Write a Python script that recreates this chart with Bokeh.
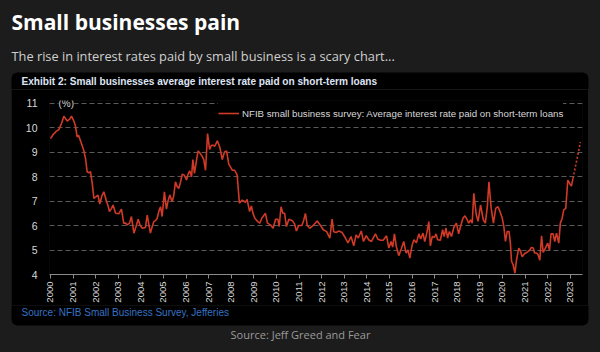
import math
from bokeh.plotting import figure
from bokeh.layouts import column, row
from bokeh.models import Label, BoxAnnotation, FixedTicker, Range1d
from bokeh.embed import file_html
from bokeh.resources import INLINE

# ---------------- data ----------------
years = [2000, 2001, 2002, 2003, 2004, 2005, 2006, 2007, 2008, 2009, 2010, 2011,
         2012, 2013, 2014, 2015, 2016, 2017, 2018, 2019, 2020, 2021, 2022, 2023]
y_ticks = [4, 5, 6, 7, 8, 9, 10, 11]

t = [2000.00, 2000.12, 2000.25, 2000.37, 2000.50, 2000.59, 2000.74, 2000.85, 2000.93,
     2001.02, 2001.10, 2001.18, 2001.24, 2001.35, 2001.47, 2001.55, 2001.62, 2001.70,
     2001.77, 2001.85, 2001.92, 2002.02, 2002.10, 2002.18, 2002.27, 2002.36, 2002.48,
     2002.55, 2002.61, 2002.70, 2002.77, 2002.88, 2003.02, 2003.14, 2003.24, 2003.32,
     2003.39, 2003.50, 2003.58, 2003.69, 2003.80, 2003.88, 2003.97, 2004.06, 2004.20,
     2004.28, 2004.42, 2004.50, 2004.57, 2004.65, 2004.72, 2004.80, 2004.87, 2004.94,
     2005.04, 2005.13, 2005.20, 2005.28, 2005.38, 2005.45, 2005.53, 2005.60, 2005.68,
     2005.76, 2005.83, 2005.92, 2006.02, 2006.09, 2006.16, 2006.24, 2006.30, 2006.37,
     2006.45, 2006.53, 2006.62, 2006.71, 2006.78, 2006.86, 2006.95, 2007.04, 2007.12,
     2007.20, 2007.27, 2007.38, 2007.49, 2007.60, 2007.70, 2007.79, 2007.89, 2007.96,
     2008.04, 2008.15, 2008.26, 2008.36, 2008.48, 2008.56, 2008.62, 2008.70, 2008.81,
     2008.89, 2008.96, 2009.04, 2009.17, 2009.26, 2009.35, 2009.51, 2009.60, 2009.73,
     2009.85, 2009.96, 2010.06, 2010.12, 2010.20, 2010.28, 2010.36, 2010.44, 2010.55,
     2010.70, 2010.80, 2010.88, 2010.98, 2011.12, 2011.20, 2011.28, 2011.36, 2011.47,
     2011.62, 2011.80, 2011.95, 2012.07, 2012.22, 2012.36, 2012.46, 2012.53, 2012.65,
     2012.76, 2012.90, 2013.05, 2013.16, 2013.30, 2013.42, 2013.52, 2013.62, 2013.75,
     2013.85, 2013.97, 2014.08, 2014.20, 2014.38, 2014.48, 2014.60, 2014.72, 2014.87,
     2014.97, 2015.07, 2015.14, 2015.22, 2015.30, 2015.41, 2015.52, 2015.63, 2015.73,
     2015.82, 2015.90, 2016.00, 2016.08, 2016.19, 2016.30, 2016.38, 2016.48, 2016.56,
     2016.65, 2016.74, 2016.81, 2016.89, 2016.99, 2017.06, 2017.13, 2017.25, 2017.35,
     2017.42, 2017.50, 2017.57, 2017.65, 2017.74, 2017.85, 2017.96, 2018.06, 2018.14,
     2018.25, 2018.34, 2018.44, 2018.51, 2018.59, 2018.66, 2018.73, 2018.84, 2018.92,
     2019.03, 2019.15, 2019.24, 2019.33, 2019.40, 2019.50, 2019.60, 2019.70, 2019.80,
     2019.89, 2019.99, 2020.06, 2020.13, 2020.21, 2020.29, 2020.35, 2020.40, 2020.47,
     2020.55, 2020.62, 2020.72, 2020.80, 2020.87, 2020.98, 2021.09, 2021.20, 2021.27,
     2021.36, 2021.42, 2021.51, 2021.58, 2021.65, 2021.73, 2021.80, 2021.90, 2022.00,
     2022.08, 2022.15, 2022.24, 2022.31, 2022.39, 2022.49, 2022.56, 2022.64, 2022.71,
     2022.80, 2022.89, 2022.97, 2023.05, 2023.12]

rate = [9.55, 9.72, 9.85, 9.92, 10.20, 10.47, 10.27, 10.35, 10.47,
        10.30, 10.09, 9.62, 9.69, 9.40, 9.08, 8.74, 8.20, 8.15,
        8.20, 7.70, 7.11, 7.18, 7.24, 6.88, 7.20, 7.38, 6.98,
        6.80, 6.57, 6.70, 6.84, 6.50, 6.48, 6.67, 6.10, 6.10,
        6.03, 6.10, 6.37, 5.69, 6.00, 6.26, 6.00, 5.89, 5.92,
        6.43, 5.69, 5.95, 6.16, 6.20, 6.30, 6.60, 6.77, 6.37,
        7.38, 6.67, 7.00, 7.25, 6.98, 7.20, 7.79, 7.60, 7.52,
        7.80, 8.10, 8.06, 7.86, 8.10, 8.24, 7.99, 8.70, 8.13,
        8.60, 9.05, 8.95, 8.83, 8.70, 8.26, 9.76, 9.11, 9.28,
        9.28, 9.24, 9.46, 9.21, 8.70, 9.01, 9.05, 8.51, 8.40,
        8.26, 8.26, 8.06, 6.91, 7.04, 7.00, 6.95, 7.07, 6.57,
        6.80, 6.50, 6.30, 6.16, 6.10, 6.30, 6.50, 6.10, 6.03,
        5.89, 6.26, 6.26, 5.96, 6.77, 6.50, 6.50, 5.96, 6.26,
        6.20, 6.07, 5.78, 6.00, 6.00, 6.20, 6.50, 6.00, 5.89,
        6.00, 6.19, 6.00, 5.83, 5.75, 5.49, 6.26, 5.75, 5.72,
        5.78, 5.72, 5.49, 5.29, 5.55, 5.17, 5.62, 5.49, 5.78,
        5.35, 5.59, 5.42, 5.35, 5.66, 5.45, 5.40, 5.40, 5.58,
        5.08, 5.35, 5.12, 5.66, 5.15, 4.77, 5.04, 5.35, 4.88,
        5.00, 4.67, 5.20, 5.42, 5.30, 5.66, 5.45, 5.69, 5.35,
        5.69, 6.16, 5.17, 5.55, 5.52, 5.66, 5.42, 5.40, 5.83,
        5.55, 5.90, 5.49, 5.76, 5.55, 5.93, 6.10, 5.66, 5.96,
        6.30, 6.40, 6.23, 6.10, 6.23, 6.10, 7.32, 6.44, 6.17,
        6.84, 6.23, 6.10, 6.77, 7.79, 6.70, 6.10, 6.70, 6.77,
        6.57, 6.30, 5.96, 5.35, 5.76, 5.76, 5.28, 4.54, 4.40,
        4.06, 4.60, 5.08, 4.95, 4.72, 4.86, 4.91, 4.99, 5.10,
        5.08, 4.88, 4.88, 4.80, 4.58, 5.58, 4.90, 5.08, 5.28,
        5.00, 5.66, 5.66, 5.35, 5.69, 5.28, 6.10, 6.30, 6.64,
        6.70, 7.86, 7.72, 7.61, 7.93]

# dotted extension at the end of the series
t_proj = [2023.12, 2023.45]
rate_proj = [7.93, 9.41]

series_name = "NFIB small business survey: Average interest rate paid on short-term loans"

OUTER_BG = "#1c1c1c"
RED = "#d13a27"


def bare(width, height):
    # a pixel-unit canvas: x 0..width to the right, y 0..height downward
    f = figure(width=width, height=height, output_backend="svg", toolbar_location=None,
               x_range=Range1d(0, width), y_range=Range1d(height, 0),
               x_axis_type=None, y_axis_type=None,
               min_border=0, min_border_left=0, min_border_right=0,
               min_border_top=0, min_border_bottom=0,
               background_fill_color=OUTER_BG, border_fill_color=OUTER_BG,
               outline_line_color=None)
    f.grid.visible = False
    return f


def lab(fig, x, y, text, size, color, font="Liberation Sans", style="normal",
        align="left"):
    l = Label(x=x, y=y, text=text,
              text_font=font, text_font_size=size, text_color=color,
              text_font_style=style, text_align=align, text_baseline="middle")
    fig.add_layout(l)


def box(fig, left, right, top, bottom, color, radius=0):
    b = BoxAnnotation(left=left, right=right, top=top, bottom=bottom,
                      fill_color=color, fill_alpha=1, line_color=None,
                      border_radius=radius, level="underlay")
    fig.add_layout(b)


# ---------------- header (0..89) ----------------
header = bare(600, 89)
box(header, 11, 588, 72, 100, "black", radius=6)
box(header, 20, 585, 88.5, 90, "#a8a8a8")
lab(header, 11, 21, "Small businesses pain", "21px", "white",
    font="Open Sans", style="bold")
lab(header, 11, 55, "The rise in interest rates paid by small business is a scary chart...",
    "12.8px", "#d0d0d0", font="Open Sans")
lab(header, 21, 81, "Exhibit 2: Small businesses average interest rate paid on short-term loans",
    "10.1px", "#dfe4f4", style="bold")

# ---------------- chart (89..305) ----------------
p = figure(width=577, height=216, output_backend="svg", toolbar_location=None,
           x_range=Range1d(1999.956, 2023.54), y_range=Range1d(4, 11.11),
           min_border_left=38, min_border_right=6, min_border_top=11, min_border_bottom=30,
           background_fill_color="black", border_fill_color="black",
           outline_line_color=None, margin=(0, 12, 0, 11))

p.line(t, rate, line_color=RED, line_width=1.6, legend_label=series_name)
p.line(t_proj, rate_proj, line_color=RED, line_width=1.6, line_dash="2 2")

p.xaxis.ticker = FixedTicker(ticks=years)
p.xaxis.major_label_orientation = math.pi / 2
p.xaxis.axis_line_color = "#8a8a8a"
p.xaxis.major_tick_line_color = "#8a8a8a"
p.xaxis.major_tick_in = 0
p.xaxis.major_tick_out = 4
p.xaxis.minor_tick_line_color = None
p.xaxis.major_label_text_color = "#d8d8d8"
p.xaxis.major_label_text_font = "Liberation Sans"
p.xaxis.major_label_text_font_size = "9.5px"
p.xaxis.major_label_standoff = 3

p.yaxis.ticker = FixedTicker(ticks=y_ticks)
p.yaxis.axis_line_color = None
p.yaxis.major_tick_line_color = None
p.yaxis.minor_tick_line_color = None
p.yaxis.major_label_text_color = "#d8d8d8"
p.yaxis.major_label_text_font = "Liberation Sans"
p.yaxis.major_label_text_font_size = "10.5px"
p.yaxis.major_label_standoff = 6

p.xgrid.grid_line_color = None
p.ygrid.grid_line_color = "#5a5a5a"
p.ygrid.grid_line_dash = "5 3"
p.ygrid.grid_line_width = 1

lg = p.legend[0]
lg.location = (169, 151)
lg.background_fill_color = "black"
lg.background_fill_alpha = 1
lg.border_line_color = None
lg.label_text_color = "#d8d8d8"
lg.label_text_font = "Liberation Sans"
lg.label_text_font_size = "9.7px"
lg.glyph_width = 21
lg.label_standoff = 3
lg.margin = 0
lg.padding = 3

pct = Label(x=47, y=14, x_units="canvas", y_units="canvas", text="(%)",
            text_font="Liberation Sans", text_font_size="10px", text_color="#d0d0d0",
            text_baseline="middle", background_fill_color="black", background_fill_alpha=1)
p.add_layout(pct)

# ---------------- footer (305..352) ----------------
footer = bare(600, 47)
box(footer, 11, 588, -10, 20, "black", radius=6)
lab(footer, 21, 6.5, "Source: NFIB Small Business Survey, Jefferies", "10px", "#3672c4")
lab(footer, 300, 29, "Source: Jeff Greed and Fear", "11px", "#9a9a9a",
    font="Open Sans", align="center")

# each figure in its own row so that their frames are not aligned with each other
layout = column(row(header), row(p), row(footer), spacing=0,
                styles={"background-color": OUTER_BG})

open("out.html", "w").write(file_html(layout, INLINE))
